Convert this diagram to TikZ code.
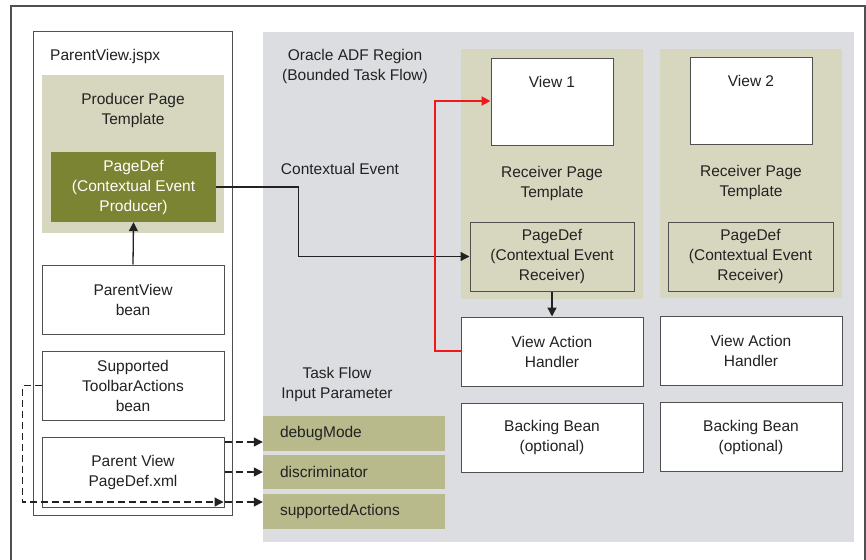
\documentclass[tikz,border=0pt]{standalone}
\usepackage{fontspec}
\setmainfont{Liberation Sans}
\usetikzlibrary{arrows.meta}
\definecolor{tmpl}{HTML}{D7D7BF}
\definecolor{dkgreen}{HTML}{7B8432}
\definecolor{regiongray}{HTML}{DCDDE0}
\definecolor{param}{HTML}{B8BA8B}
\definecolor{bord}{HTML}{505050}
\definecolor{ink}{HTML}{222222}
\definecolor{redline}{HTML}{F01818}
\tikzset{
  x=1pt, y=-1pt,
  every node/.style={font=\fontsize{15.5}{20}\selectfont, text=ink, inner sep=0pt, align=center},
  whitebox/.style={draw=bord, line width=1pt, fill=white},
  tmplbox/.style={fill=tmpl},
  recbox/.style={draw=bord, line width=1pt, fill=tmpl},
  parambox/.style={fill=param, minimum width=182pt, text width=148pt, align=left, inner xsep=17pt},
  arr/.style={draw=ink, line width=1.3pt, -{Triangle[length=9pt,width=9pt]}},
  darr/.style={draw=ink, line width=1.3pt, dash pattern=on 7pt off 4pt, -{Triangle[length=9pt,width=9pt]}},
  redarr/.style={draw=redline, line width=2pt, -{Triangle[length=9pt,width=9pt]}},
}
\begin{document}
\begin{tikzpicture}
\useasboundingbox[fill=white] (0,0) rectangle (866,559);
% outer frame
\draw[bord, line width=1.2pt] (11,560) -- (11,6) -- (865,6) -- (865,560);
% left panel
\node[whitebox, minimum width=199pt, minimum height=483pt] (jspx) at (132.5,273.5) {};
\node[anchor=west] (jspxt) at (50,56) {ParentView.jspx};
\node[tmplbox, minimum width=182pt, minimum height=158pt] (ptmpl) at (133,154) {};
\node (ptmplt) at (133,110) {Producer Page\\Template};
\node[fill=dkgreen, minimum width=165pt, minimum height=70pt] (pdprod) at (133.5,187) {\color{white}PageDef\\\color{white}(Contextual Event\\\color{white}Producer)};
\node[whitebox, minimum width=182pt, minimum height=69pt] (pvbean) at (133,299.5) {ParentView\\bean};
\node[whitebox, minimum width=182pt, minimum height=69pt] (stb) at (133,385.5) {Supported\\ToolbarActions\\bean};
\node[whitebox, minimum width=182pt, minimum height=70pt] (pvxml) at (133,472) {Parent View\\PageDef.xml};
% region
\node[fill=regiongray, minimum width=591pt, minimum height=510pt] (region) at (558.5,287) {};
\node (regiont) at (355,66) {Oracle ADF Region\\(Bounded Task Flow)};
\node (cet) at (340,169) {Contextual Event};
\node (tfip) at (337,384) {Task Flow\\Input Parameter};
% receiver templates
\node[tmplbox, minimum width=182pt, minimum height=250pt] (rt1) at (552,174) {};
\node[tmplbox, minimum width=182pt, minimum height=249pt] (rt2) at (751,173.5) {};
\node[whitebox, minimum width=122pt, minimum height=86pt] (view1) at (552,102) {};
\node (view1t) at (552,82) {View 1};
\node[whitebox, minimum width=122pt, minimum height=86pt] (view2) at (751,101) {};
\node (view2t) at (751,81) {View 2};
\node (rt1t) at (552,183) {Receiver Page\\Template};
\node (rt2t) at (751,182) {Receiver Page\\Template};
\node[recbox, minimum width=164pt, minimum height=69pt] (pdrec1) at (552,256.5) {PageDef\\(Contextual Event\\Receiver)};
\node[recbox, minimum width=165pt, minimum height=69pt] (pdrec2) at (750.5,256.5) {PageDef\\(Contextual Event\\Receiver)};
\node[whitebox, minimum width=182pt, minimum height=69pt] (vah1) at (552,351.5) {View Action\\Handler};
\node[whitebox, minimum width=182pt, minimum height=69pt] (vah2) at (751,351) {View Action\\Handler};
\node[whitebox, minimum width=182pt, minimum height=69pt] (bb1) at (552,437.5) {Backing Bean\\(optional)};
\node[whitebox, minimum width=182pt, minimum height=69pt] (bb2) at (751,437) {Backing Bean\\(optional)};
% parameters
\node[parambox, minimum height=35pt] (debug) at (354,433.5) {debugMode};
\node[parambox, minimum height=34pt] (disc) at (354,472) {discriminator};
\node[parambox, minimum height=35pt] (supp) at (354,511.5) {supportedActions};
% connectors
\draw[arr] (pvbean.north) -- (pdprod.south);
\draw[arr] (pdprod.east) -- ++(82,0) |- (pdrec1.west);
\draw[arr] (pdrec1.south) -- (vah1.north);
\draw[redarr] ([yshift=0.5pt]vah1.west) -- ++(-26,0) |- ([yshift=1pt]view1.west);
\coordinate (c1) at ([yshift=30pt]pvxml.east);
\coordinate (c2) at (pvxml.east);
\coordinate (c3) at ([yshift=-30pt]pvxml.east);
\draw[darr] (c1) -- (c1 -| debug.west);
\draw[darr] (c2) -- (c2 -| disc.west);
\draw[darr] (c3) -- (c3 -| supp.west);
\draw[darr] (stb.west) -- ++(-19,0) |- ([xshift=-1pt]c3);
\end{tikzpicture}
\end{document}
